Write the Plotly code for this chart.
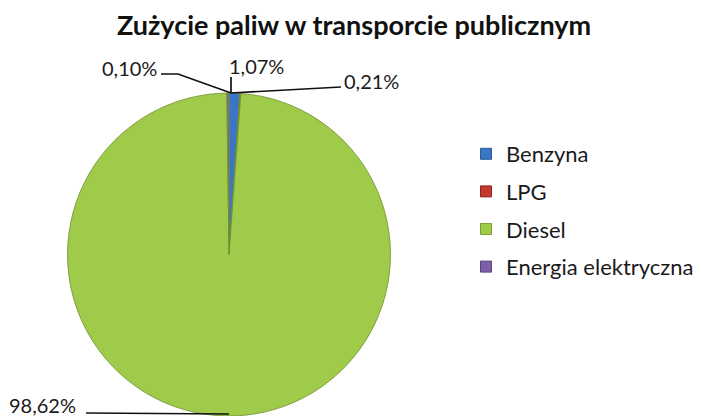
import plotly.graph_objects as go

W, H = 701, 416

# data
labels = ["Benzyna", "LPG", "Diesel", "Energia elektryczna"]
values = [1.07, 0.10, 98.62, 0.21]
text_labels = ["1,07%", "0,10%", "98,62%", "0,21%"]
colors = ["#3b76c4", "#c4392f", "#9fca4a", "#7c5fa6"]
edge = ["#2a5a9a", "#8f2620", "#7c9f36", "#5c447e"]

FONT = "Lato"


def px(x):
    return x / W


def py(y):
    return 1 - y / H


# pie placement (pixels)
cx, top, bottom = 229, 93, 416
r = (bottom - top) / 2

fig = go.Figure()

fig.add_trace(go.Pie(
    labels=labels,
    values=values,
    sort=False,
    direction="clockwise",
    rotation=0,
    textinfo="none",
    hoverinfo="label+percent",
    marker=dict(colors=colors, line=dict(color="#6f9030", width=0.8)),
    domain=dict(x=[px(cx - r), px(cx + r)], y=[0, py(top)]),
    showlegend=False,
))

# legend entries (one group each so the spacing can be set)
for lab, c, e in zip(labels, colors, edge):
    fig.add_trace(go.Scatter(
        x=[None], y=[None], mode="markers", name=lab, legendgroup=lab,
        marker=dict(symbol="square", size=11, color=c, line=dict(color=e, width=1)),
    ))

# data labels with leader lines
lab_pos = {
    "0,10%": dict(x=159, y=68, xanchor="right"),
    "1,07%": dict(x=256, y=66, xanchor="center"),
    "0,21%": dict(x=342, y=81, xanchor="left"),
    "98,62%": dict(x=7, y=405, xanchor="left"),
}
for t in text_labels:
    p = lab_pos[t]
    fig.add_annotation(
        x=px(p["x"]), y=py(p["y"]), xref="paper", yref="paper",
        text=t, showarrow=False, xanchor=p["xanchor"], yanchor="middle",
        font=dict(family=FONT, size=20, color="#1a1a1a"),
    )


def path(pts):
    return "M " + " L ".join(f"{px(x)},{py(y)}" for x, y in pts)


tip = (cx + 2, top)
leaders = [
    [(161, 74), (178, 74), tip],
    [(cx + 2, 77), tip],
    [(341, 87), tip],
    [(86, 413), (cx, 414)],
]
for pts in leaders:
    fig.add_shape(type="path", xref="paper", yref="paper", path=path(pts),
                  line=dict(color="#111111", width=1.7))

fig.update_layout(
    width=W, height=H,
    margin=dict(l=0, r=0, t=0, b=0),
    paper_bgcolor="white", plot_bgcolor="white",
    title=dict(text="<b>Zużycie paliw w transporcie publicznym</b>",
               x=px(354), xanchor="center", y=py(26), yanchor="middle",
               font=dict(family=FONT, size=27, color="#111111")),
    xaxis=dict(visible=False), yaxis=dict(visible=False),
    legend=dict(x=px(466), y=py(133), xanchor="left", yanchor="top",
                tracegroupgap=6, font=dict(family=FONT, size=22, color="#1a1a1a"),
                bgcolor="rgba(0,0,0,0)"),
)

# the page body has a default 8px margin; drop it so the figure fills the window
fig.write_html("out.html", config={"displayModeBar": False},
               post_script="document.body.style.margin='0';")
